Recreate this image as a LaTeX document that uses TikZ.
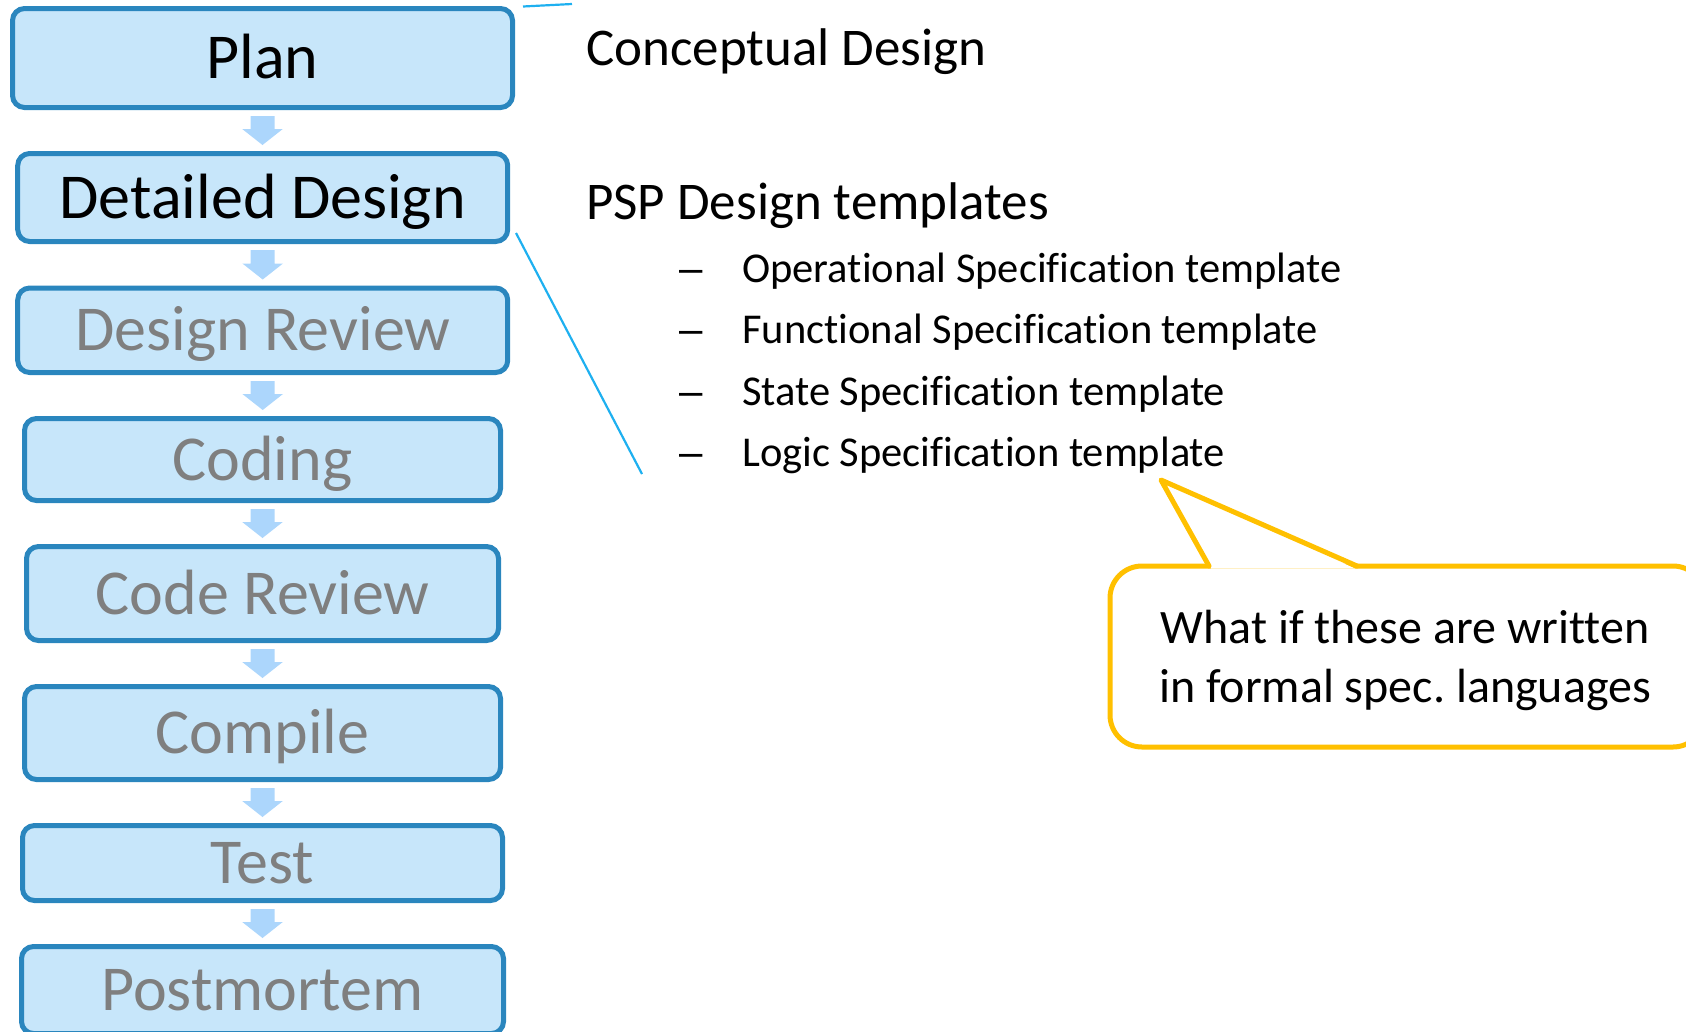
\documentclass[tikz,border=0pt]{standalone}
\usepackage{fontspec}
\setmainfont{Carlito}[Ligatures=NoCommon]
\newfontfamily\dashfont{Liberation Sans}
\frenchspacing
\usetikzlibrary{calc}

\definecolor{boxfill}{HTML}{C7E6FA}
\definecolor{boxline}{HTML}{2A86BE}
\definecolor{arrowblue}{HTML}{ACD6FC}
\definecolor{dimtext}{HTML}{7F7F7F}
\definecolor{zoomline}{HTML}{1EB0F0}
\definecolor{calloutline}{HTML}{FFC000}

% block arrow from the bottom of one stage box to the top of the next
\newcommand\stagearrow[2]{%
  \fill[arrowblue] let \p1=(#1.south), \p2=(#2.north) in
    (\x1-12pt,\y1-6pt) -- (\x1+12pt,\y1-6pt) --
    (\x1+12pt,\y2+22pt) -- (\x1+20.3pt,\y2+22pt) --
    (\x1,\y2+6pt) --
    (\x1-20.3pt,\y2+22pt) -- (\x1-12pt,\y2+22pt) -- cycle;}

\tikzset{
  stage/.style={draw=boxline, fill=boxfill, line width=5pt,
    rounded corners=12pt, inner sep=0pt,
    font=\fontsize{64}{70}\selectfont, text height=41.2pt, text depth=0pt},
  active/.style={text=black},
  pending/.style={text=dimtext},
  heading/.style={anchor=base west, inner sep=0pt, font=\fontsize{53}{60}\selectfont},
  item/.style={anchor=base west, inner sep=0pt, font=\fontsize{42.5}{50}\selectfont},
  dashmark/.style={anchor=base west, inner sep=0pt, font=\dashfont\fontsize{42}{50}\selectfont},
  zoom/.style={draw=zoomline, line width=2.2pt},
  callout/.style={draw=calloutline, line width=5pt},
  callouttext/.style={anchor=base, inner sep=0pt, font=\fontsize{48}{56}\selectfont},
}

\begin{document}
\begin{tikzpicture}[x=1pt, y=-1pt]
\useasboundingbox (0,0) rectangle (1686,1031);
\clip (0,0) rectangle (1686,1031);

% process stages
\node[stage, active, minimum width=500pt, minimum height=99pt] (plan) at (262.5,58) {Plan};
\node[stage, active, minimum width=490pt, minimum height=88pt] (detail) at (262.7,197.5) {Detailed Design};
\node[stage, pending, minimum width=490pt, minimum height=84.5pt] (dreview) at (262.7,330.25) {Design Review};
\node[stage, pending, minimum width=476pt, minimum height=82pt] (coding) at (262.5,459.5) {Coding};
\node[stage, pending, minimum width=472pt, minimum height=94pt] (creview) at (262.5,593.5) {Code Review};
\node[stage, pending, minimum width=476pt, minimum height=93pt] (compile) at (262.5,733) {Compile};
\node[stage, pending, minimum width=480pt, minimum height=75pt] (test) at (262.5,863) {Test};
\node[stage, pending, minimum width=482pt, minimum height=87pt] (postmortem) at (262.5,990) {Postmortem};

\stagearrow{plan}{detail}
\stagearrow{detail}{dreview}
\stagearrow{dreview}{coding}
\stagearrow{coding}{creview}
\stagearrow{creview}{compile}
\stagearrow{compile}{test}
\stagearrow{test}{postmortem}

% zoom lines
\coordinate (za) at (523,6.5);
\coordinate (zb) at (572,4);
\draw[zoom] (za) -- (zb);
\coordinate (zc) at (516,233);
\coordinate (zd) at (642,474);
\draw[zoom] (zc) -- (zd);

% design notes
\node[heading] (concept) at (586,65) {Conceptual Design};
\node[heading] (psp) at (586,219) {PSP Design templates};

\node[dashmark] (d1) at (679,282) {–};
\node[item] (t1) at (742,282) {Operational Specification template};
\node[dashmark] (d2) at (679,343) {–};
\node[item] (t2) at (742,343) {Functional Specification template};
\node[dashmark] (d3) at (679,405) {–};
\node[item] (t3) at (742,405) {State Specification template};
\node[dashmark] (d4) at (679,466) {–};
\node[item] (t4) at (742,466) {Logic Specification template};

% callout: rounded box, then the pointer laid over its top edge
\fill[white, rounded corners=32pt] (1110,566) rectangle (1705,747);
\draw[callout, rounded corners=32pt] (1110,566) rectangle (1705,747);
\fill[white] (1211,568.5) -- (1161,480) -- (1355,568.5) -- cycle;
\draw[callout, line join=round, line cap=round] (1209,566) -- (1161,480) -- (1357,566);
\node[callouttext] (q1) at (1405,643) {What if these are written};
\node[callouttext] (q2) at (1405,702) {in formal spec. languages};
\end{tikzpicture}
\end{document}
